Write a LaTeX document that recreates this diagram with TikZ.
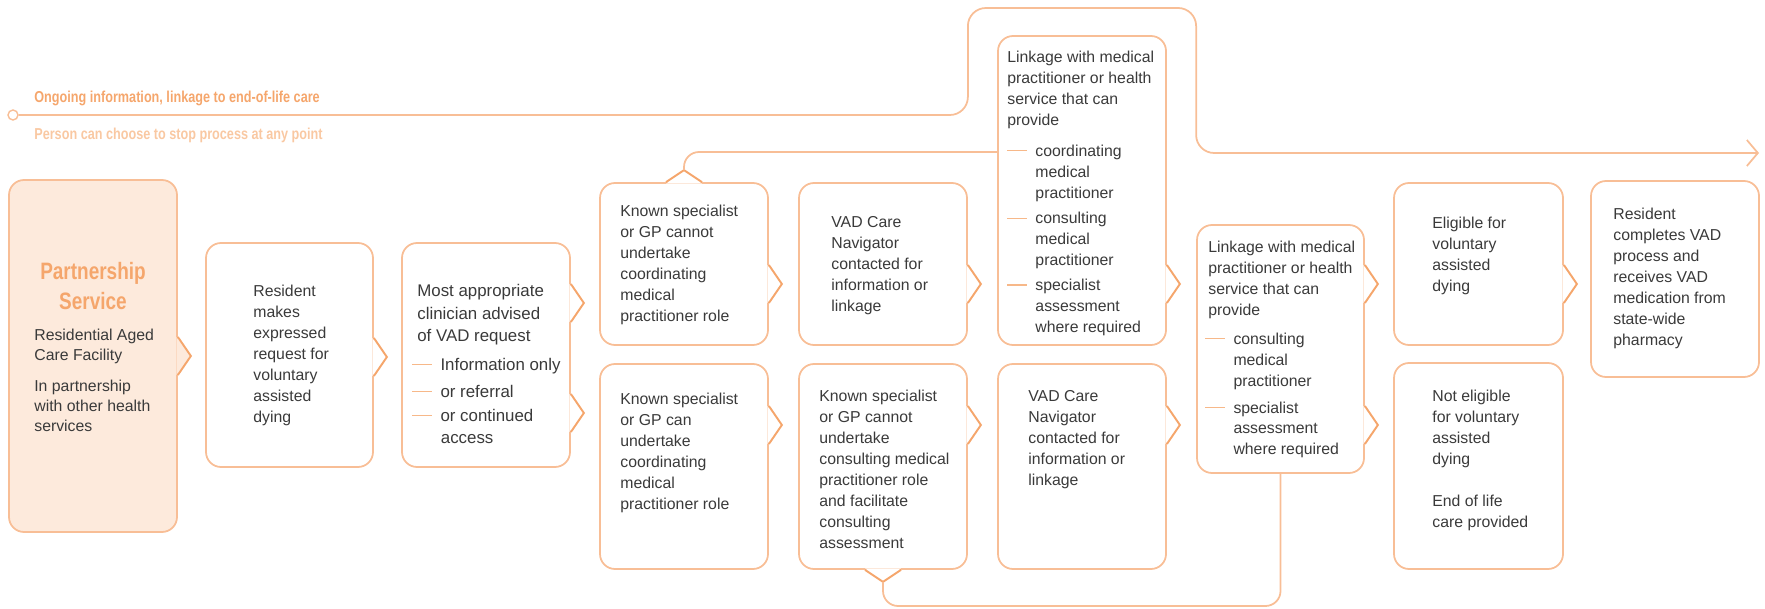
\documentclass[tikz,border=0pt]{standalone}
\usepackage{fontspec}
\setmainfont{Liberation Sans}
\newfontfamily\headfont{Liberation Sans Bold}[FakeStretch=0.8]
\usetikzlibrary{arrows.meta,fit}
\definecolor{apricot}{RGB}{248, 190, 150}
\definecolor{tangerine}{RGB}{245, 166, 108}
\definecolor{blush}{RGB}{249, 200, 162}
\definecolor{cream}{RGB}{253, 234, 220}
\definecolor{slate}{RGB}{58, 58, 58}

% chevron on the right edge of a box: [fill]{node}{y}
\newcommand\chevR[3][white]{%
  \path (#2.east |- 0,#3) coordinate (chv);
  \fill[#1] (chv) ++(-1.5,-19) -- ++(14.5,19) -- ++(-14.5,19) -- cycle;
  \draw[chev] (chv) ++(0,-19) -- ++(13,19) -- ++(-13,19);}
% chevron on the top / bottom edge, leaves a coordinate at the tip
\newcommand\chevU[1]{%
  \path (#1.north) coordinate (chv) ++(0,-12) coordinate (#1-up);
  \fill[white] (chv) ++(-18,1.5) -- ++(18,-13.5) -- ++(18,13.5) -- cycle;
  \draw[chev] (chv) ++(-18,0) -- ++(18,-12) -- ++(18,12);}
\newcommand\chevD[1]{%
  \path (#1.south) coordinate (chv) ++(0,12) coordinate (#1-down);
  \fill[white] (chv) ++(-18,-1.5) -- ++(18,13.5) -- ++(18,-13.5) -- cycle;
  \draw[chev] (chv) ++(-18,0) -- ++(18,12) -- ++(18,-12);}
\newcommand\dashbar{\makebox[16pt][l]{\textcolor{tangerine!80}{\rule[2.8pt]{11pt}{0.85pt}}}}

\begin{document}
\begin{tikzpicture}[x=0.2mm, y=-0.2mm,
    box/.style={draw=apricot, line width=1pt, rounded corners=3mm, inner sep=0pt},
    chev/.style={draw=tangerine, line width=1.1pt},
    link/.style={draw=apricot, line width=1pt},
    txt/.style={text=slate, align=left, inner sep=0pt, anchor=north west, font=\fontsize{9}{11.9}\selectfont},
    headtxt/.style={inner sep=0pt, font=\headfont\fontsize{9}{11}\selectfont},
    dot/.style={circle, draw=apricot, fill=white, line width=0.8pt, minimum size=2mm, inner sep=0pt}]
  \useasboundingbox (0,0) rectangle (1765,609);

  % Boxes
  \node[box, fill=cream, fit={(9,180) (177,532)}]   (partner)   {};
  \node[box, fit={(206,243) (373,467)}]             (resident)  {};
  \node[box, fit={(402,243) (570,467)}]             (clinician) {};
  \node[box, fit={(600,183) (768,345)}]             (c4t)       {};
  \node[box, fit={(600,364) (768,569)}]             (c4b)       {};
  \node[box, fit={(799,183) (967,345)}]             (c5t)       {};
  \node[box, fit={(799,364) (967,569)}]             (c5b)       {};
  \node[box, fit={(998,36) (1166,345)}]             (c6t)       {};
  \node[box, fit={(998,364) (1166,569)}]            (c6b)       {};
  \node[box, fit={(1197,225) (1364,473)}]           (c7)        {};
  \node[box, fit={(1394,183) (1563,345)}]           (c8t)       {};
  \node[box, fit={(1394,363) (1563,569)}]           (c8b)       {};
  \node[box, fit={(1591,181) (1759,377)}]           (c9)        {};

  % Chevrons
  \chevR[cream]{partner}{356}
  \chevR{resident}{357}
  \chevR{clinician}{303}  \chevR{clinician}{413}
  \chevR{c4t}{284}        \chevR{c4b}{425}
  \chevR{c5t}{284}        \chevR{c5b}{425}
  \chevR{c6t}{284}        \chevR{c6b}{425}
  \chevR{c7}{284}         \chevR{c7}{425}
  \chevR{c8t}{284}
  \chevU{c4t}
  \chevD{c5b}

  % Ongoing line
  \node[dot] (start) at (13,115) {};
  \coordinate (finish) at (1759,153);
  \draw[link, rounded corners=3.6mm, -{Straight Barb[length=2.2mm, width=5.2mm]}]
       (start.east) -| (c5t.east |- 0,8) -| (c7.west |- finish) -- (finish);
  \node[headtxt, text=tangerine, anchor=base west] (ongoing) at (34,103) {Ongoing information, linkage to end-of-life care};
  \node[headtxt, text=blush,     anchor=base west] (stop)    at (34,140) {Person can choose to stop process at any point};

  % Connectors
  \draw[link, rounded corners=3mm] (c4t-up)   |- (c6t.west |- 0,152);
  \draw[link, rounded corners=3mm] (c5b-down) |- (c7.south |- 0,606) -- (c7.south);

  % Texts
  \node[anchor=north, align=center, inner sep=0pt, text=tangerine, font=\headfont\fontsize{13.5}{17}\selectfont]
       (partner-h) at (93,262) {Partnership\\Service};
  \node[txt, font=\fontsize{9}{11.4}\selectfont] (partner-t) at (34,329)
       {Residential Aged\\Care Facility\\[6pt]In partnership\\with other health\\services};
  \node[txt] (resident-t) at (253,285)
       {Resident\\makes\\expressed\\request for\\voluntary\\assisted\\dying};
  \node[txt, font=\fontsize{9.6}{12.8}\selectfont] (clinician-t) at (417,284)
       {Most appropriate\\clinician advised\\of VAD request\\[3.6pt]%
        \kern-2.8pt\dashbar Information only\\[2.5pt]\kern-2.8pt\dashbar or referral\\[0.8pt]%
        \kern-2.8pt\dashbar or continued\\\hspace*{13.4pt}access};
  \node[txt] (c4t-t) at (620,205)
       {Known specialist\\or GP cannot\\undertake\\coordinating\\medical\\practitioner role};
  \node[txt] (c4b-t) at (620,393)
       {Known specialist\\or GP can\\undertake\\coordinating\\medical\\practitioner role};
  \node[txt] (c5t-t) at (831,216)
       {VAD Care\\Navigator\\contacted for\\information or\\linkage};
  \node[txt] (c5b-t) at (819,390)
       {Known specialist\\or GP cannot\\undertake\\consulting medical\\practitioner role\\and facilitate\\consulting\\assessment};
  \node[txt] (c6t-t) at (1007,51)
       {Linkage with medical\\practitioner or health\\service that can\\provide\\[5.6pt]%
        \dashbar coordinating\\\hspace*{16pt}medical\\\hspace*{16pt}practitioner\\[2.8pt]%
        \dashbar consulting\\\hspace*{16pt}medical\\\hspace*{16pt}practitioner\\[2.3pt]%
        \dashbar specialist\\\hspace*{16pt}assessment\\\hspace*{16pt}where required};
  \node[txt] (c6b-t) at (1028,390)
       {VAD Care\\Navigator\\contacted for\\information or\\linkage};
  \node[txt] (c7-t) at (1208,241)
       {Linkage with medical\\practitioner or health\\service that can\\provide\\[4.5pt]%
        \kern-1.7pt\dashbar consulting\\\hspace*{14.3pt}medical\\\hspace*{14.3pt}practitioner\\[3.4pt]%
        \kern-1.7pt\dashbar specialist\\\hspace*{14.3pt}assessment\\\hspace*{14.3pt}where required};
  \node[txt] (c8t-t) at (1432,217)
       {Eligible for\\voluntary\\assisted\\dying};
  \node[txt] (c8b-t) at (1432,390)
       {Not eligible\\for voluntary\\assisted\\dying\\[11.9pt]End of life\\care provided};
  \node[txt] (c9-t) at (1613,208)
       {Resident\\completes VAD\\process and\\receives VAD\\medication from\\state-wide\\pharmacy};
\end{tikzpicture}
\end{document}
